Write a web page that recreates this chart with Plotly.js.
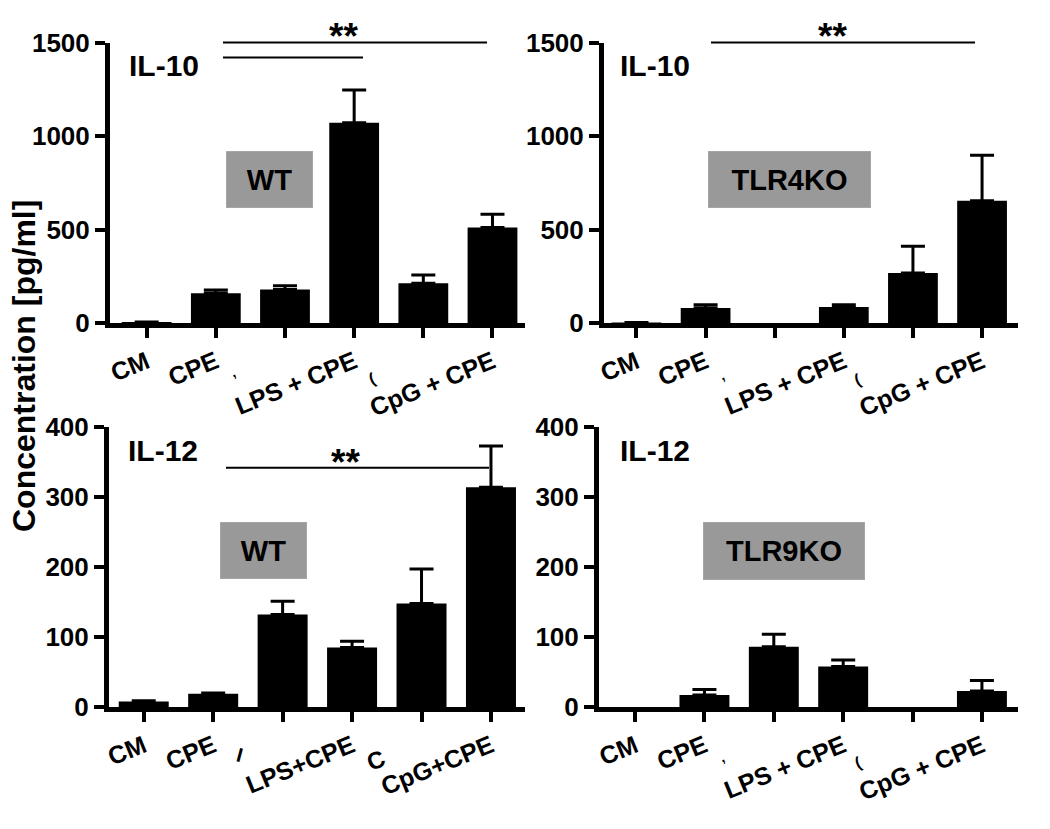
<!DOCTYPE html>
<html>
<head>
<meta charset="utf-8">
<script src="https://cdn.plot.ly/plotly-3.0.1.min.js"></script>
<style>html,body{margin:0;padding:0;background:#fff;}#chart{width:1050px;height:829px;}</style>
</head>
<body>
<div id="chart"></div>
<script>
// ---- data ----
var categories = ["CM", "CPE", "LPS", "LPS + CPE", "CpG", "CpG + CPE"];
var tickLabelsA = ["CM", "CPE", "", "LPS + CPE", "", "CpG + CPE"];
var tickLabelsB = ["CM", "CPE", "", "LPS+CPE", "", "CpG+CPE"];

var il10WT = [5, 160, 180, 1073, 213, 511];
var il10WTErr = [0, 17, 20, 175, 44, 71];
var il10TLR4KO = [3, 80, 0, 86, 268, 655];
var il10TLR4KOErr = [0, 18, 0, 12, 143, 243];
var il12WT = [8, 19, 132, 85, 148, 314];
var il12WTErr = [1, 1, 19, 9, 49, 59];
var il12TLR9KO = [0, 17, 86, 58, 0, 23];
var il12TLR9KOErr = [0, 8, 18, 9, 0, 15];

var W = 1050, H = 829;
function px(x) { return x / W; }
function py(y) { return 1 - y / H; }

var FONT = "Liberation Sans, Arial, Helvetica, sans-serif";

function barTrace(vals, errs, xa, ya) {
  return {
    type: "bar", x: categories, y: vals, xaxis: xa, yaxis: ya,
    width: 0.72, marker: {color: "#000000", line: {width: 0}},
    error_y: {type: "data", symmetric: false,
      array: errs.map(function (e, i) { return vals[i] === 0 ? NaN : e; }),
      arrayminus: errs.map(function (e, i) { return vals[i] === 0 ? NaN : 0; }),
      color: "#000000", thickness: 3, width: 12},
    showlegend: false, hoverinfo: "x+y"
  };
}

var data = [
  barTrace(il10WT, il10WTErr, "x", "y"),
  barTrace(il10TLR4KO, il10TLR4KOErr, "x2", "y2"),
  barTrace(il12WT, il12WTErr, "x3", "y3"),
  barTrace(il12TLR9KO, il12TLR9KOErr, "x4", "y4")
];

function xAxis(dom, rng, labels, anchor) {
  return {
    domain: dom, range: rng, anchor: anchor, type: "category",
    tickmode: "array", tickvals: categories, ticktext: labels,
    showline: true, linecolor: "#000", linewidth: 5,
    ticks: "outside", ticklen: 10, tickwidth: 4, tickcolor: "#000",
    tickangle: -22, showgrid: false, zeroline: false,
    tickfont: {family: FONT, size: 25, color: "#000", weight: "bold"},
    fixedrange: true
  };
}
function yAxis(dom, rng, dtick, anchor) {
  return {
    domain: dom, range: rng, anchor: anchor, dtick: dtick, tick0: 0,
    showline: true, linecolor: "#000", linewidth: 5,
    ticks: "outside", ticklen: 10, tickwidth: 4, tickcolor: "#000",
    showgrid: false, zeroline: false,
    tickfont: {family: FONT, size: 26, color: "#000", weight: "bold"},
    fixedrange: true
  };
}

var topDom = [py(323), py(43)];
var botDom = [py(707), py(427)];

var layout = {
  width: W, height: H,
  margin: {l: 0, r: 0, t: 0, b: 0},
  paper_bgcolor: "#ffffff", plot_bgcolor: "#ffffff",
  showlegend: false, bargap: 0.28,
  xaxis: xAxis([px(110), px(525)], [-0.53, 5.47], tickLabelsA, "y"),
  yaxis: yAxis(topDom, [0, 1500], 500, "x"),
  xaxis2: xAxis([px(604), px(1018)], [-0.47, 5.52], tickLabelsA, "y2"),
  yaxis2: yAxis(topDom, [0, 1500], 500, "x2"),
  xaxis3: xAxis([px(109), px(525)], [-0.5, 5.49], tickLabelsB, "y3"),
  yaxis3: yAxis(botDom, [0, 400], 100, "x3"),
  xaxis4: xAxis([px(599), px(1018)], [-0.52, 5.52], tickLabelsA, "y4"),
  yaxis4: yAxis(botDom, [0, 400], 100, "x4"),
  shapes: [
    {type: "line", xref: "paper", yref: "paper", x0: px(223), x1: px(487), y0: py(42.5), y1: py(42.5), line: {color: "#000", width: 2}},
    {type: "line", xref: "paper", yref: "paper", x0: px(223), x1: px(363), y0: py(57.5), y1: py(57.5), line: {color: "#000", width: 2}},
    {type: "line", xref: "paper", yref: "paper", x0: px(711), x1: px(975), y0: py(42.5), y1: py(42.5), line: {color: "#000", width: 2}},
    {type: "line", xref: "paper", yref: "paper", x0: px(226), x1: px(489), y0: py(467.7), y1: py(467.7), line: {color: "#000", width: 2}}
  ],
  annotations: []
};

function ann(text, x, y, size, opts) {
  var a = {text: "<b>" + text + "</b>", x: px(x), y: py(y), xref: "paper", yref: "paper",
    showarrow: false, xanchor: "center", yanchor: "middle",
    font: {family: FONT, size: size, color: "#000"}};
  for (var k in opts) a[k] = opts[k];
  layout.annotations.push(a);
}

// panel labels
ann("IL-10", 127, 66, 30, {xanchor: "left"});
ann("IL-10", 618, 66, 30, {xanchor: "left"});
ann("IL-12", 126, 451, 30, {xanchor: "left"});
ann("IL-12", 618, 451, 30, {xanchor: "left"});

// genotype boxes
var boxOpts = function (w, h) { return {width: w, height: h, bgcolor: "#999999", borderpad: 0, borderwidth: 1, bordercolor: "#a6a6a6"}; };
ann("WT", 269.5, 179, 29, boxOpts(85, 55));
ann("TLR4KO", 789.5, 179.5, 29, boxOpts(161, 55));
ann("WT", 263.5, 550.5, 29, boxOpts(85, 55));
ann("TLR9KO", 784, 551, 29, boxOpts(160, 56));

// significance stars
ann("**", 343, 37, 37, {});
ann("**", 832, 37, 37, {});
ann("**", 345, 462, 37, {});

// y-axis title
ann("Concentration [pg/ml]", 24, 366, 32, {textangle: -90});

// clipped label remnants
ann(",", 233, 372, 14, {textangle: -22});
ann("(", 372, 378, 16, {textangle: -22});
ann(",", 722, 375, 14, {textangle: -22});
ann("(", 858, 380, 16, {textangle: -22});
ann("I", 240, 755, 20, {textangle: 15});
ann("C", 375, 760, 24, {textangle: -22});
ann(",", 722, 757, 14, {textangle: -22});
ann("(", 858, 762, 16, {textangle: -22});

Plotly.newPlot("chart", data, layout, {displayModeBar: false, staticPlot: true});
</script>
</body>
</html>
